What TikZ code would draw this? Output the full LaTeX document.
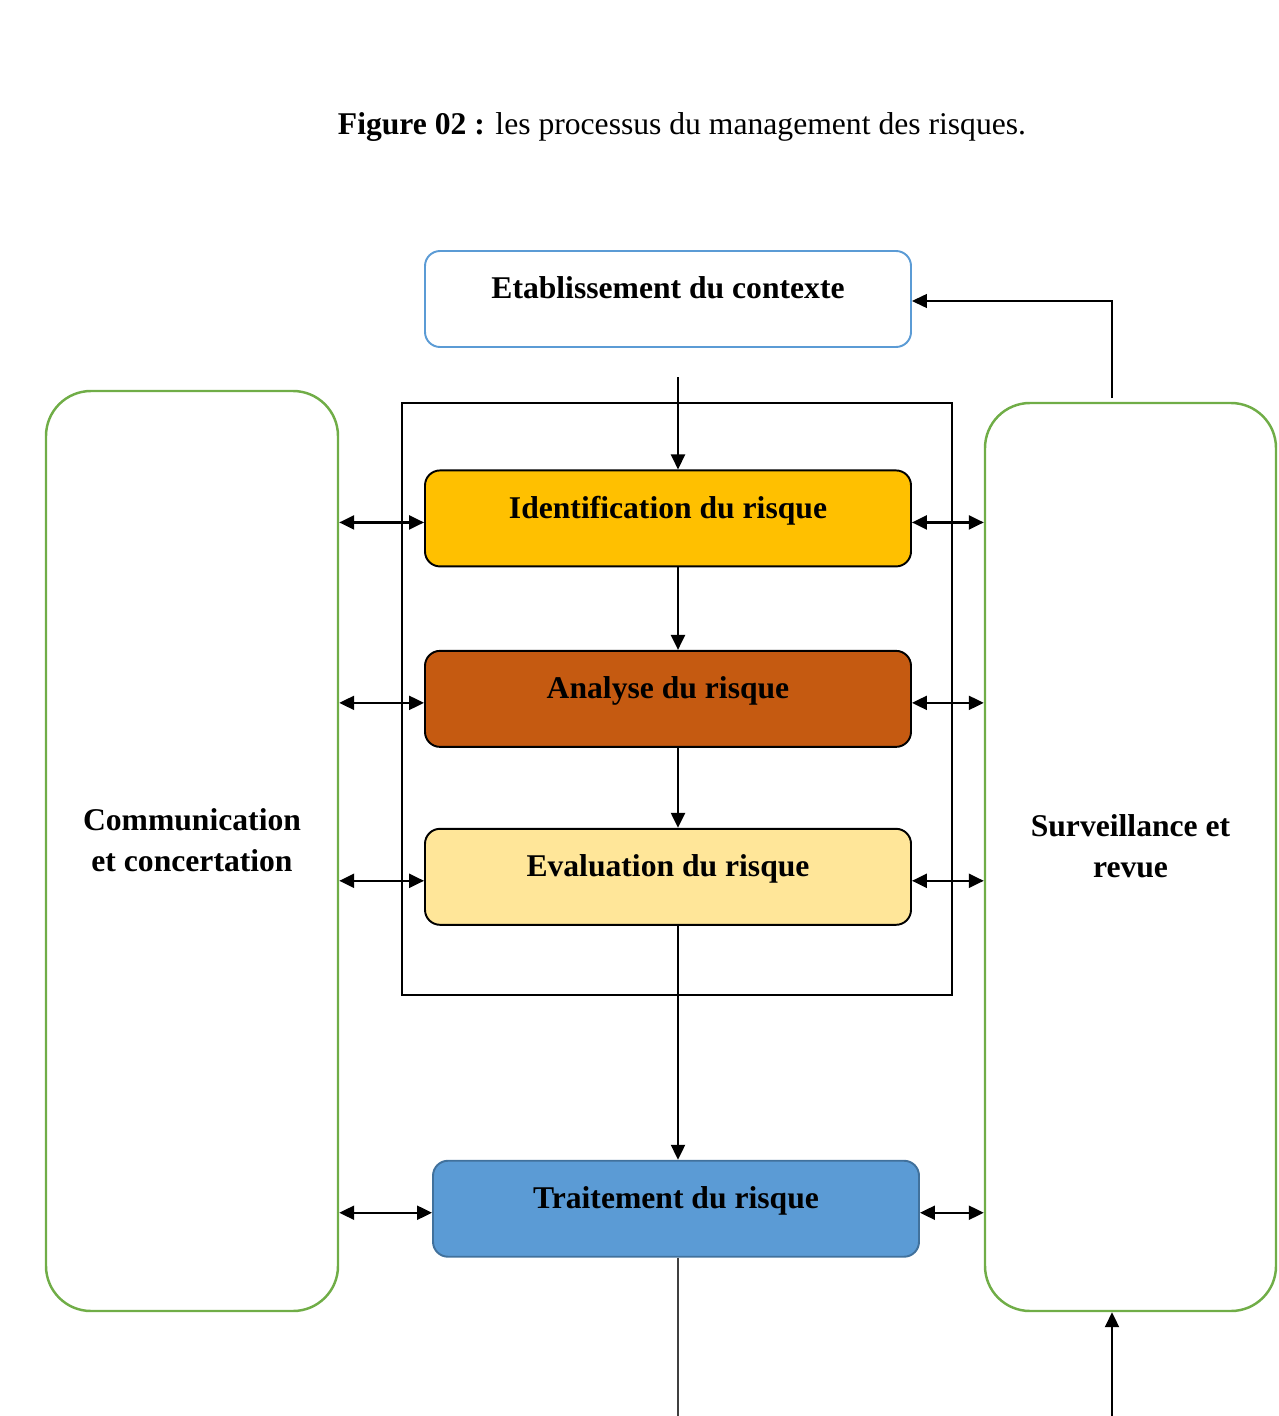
\documentclass[tikz,border=0pt]{standalone}
\usepackage{fontspec}
\setmainfont{Liberation Serif}
\usetikzlibrary{arrows.meta, positioning}
\usepackage{xcolor}
\definecolor{boxblue}{HTML}{5B9BD5}
\definecolor{darkblue}{HTML}{41719C}
\definecolor{boxgreen}{HTML}{70AD47}
\definecolor{ident}{HTML}{FFC000}
\definecolor{analy}{HTML}{C55A11}
\definecolor{evalu}{HTML}{FFE699}

\begin{document}
\begin{tikzpicture}[
font=\fontsize{18}{22}\selectfont,
box/.style={draw,
rectangle,
rounded corners=0.3cm,
line width=1.1pt,
minimum width=9.72cm,
minimum height=1.92cm,
text depth=0.45cm,
align=center,
font=\fontsize{18}{22}\selectfont\bfseries},
side/.style={draw=boxgreen,
rectangle,
rounded corners=0.9cm,
line width=1.4pt,
minimum width=5.84cm},
sidetext/.style={align=center,
yshift=0.22cm,
font=\fontsize{18}{23}\selectfont\bfseries},
arrow/.style={-{Triangle[length=0.3cm, width=0.28cm]}, line width=1.3pt},
twoway/.style={{Triangle[length=0.3cm, width=0.28cm]}-{Triangle[length=0.3cm, width=0.28cm]}, line width=1.3pt}
]
\useasboundingbox (0,0) rectangle (25.58,-28.32);

\node (title) at (13.64,-2.54) {\textbf{Figure 02 :} les processus du management des risques.};

\node[box, draw=boxblue, fill=white] (etab) at (13.36,-5.98) {Etablissement du contexte};
\node[box, fill=ident, below=2.43cm of etab] (ident) {Identification du risque};
\node[box, fill=analy, below=1.65cm of ident] (analyse) {Analyse du risque};
\node[box, fill=evalu, below=1.6cm of analyse] (evalr) {Evaluation du risque};
\node[box, fill=boxblue, draw=darkblue, below=4.68cm of evalr, xshift=0.16cm] (trait) {Traitement du risque};

\node[side, minimum height=18.4cm, label={[sidetext]center:Communication\\et concertation}] (comm) at (3.84,-17.02) {};
\node[side, minimum width=5.82cm, minimum height=18.16cm, label={[sidetext]center:Surveillance et\\revue}] (surv) at (22.61,-17.14) {};

\draw[line width=0.8pt] (8.04,-8.06) rectangle (19.04,-19.9);

\coordinate (spine) at (13.56,0);
\coordinate (loopx) at (22.24,-7.96);
\coordinate (endl) at (13.56,-28.32);
\coordinate (endr) at (22.24,-28.32);

\draw[arrow] (13.56,-7.54) -- (ident.north -| spine);
\draw[arrow] (ident.south -| spine) -- (analyse.north -| spine);
\draw[arrow] (analyse.south -| spine) -- (evalr.north -| spine);
\draw[arrow] (evalr.south -| spine) -- (trait.north -| spine);
\draw[line width=0.6pt, black!75] (trait.south -| spine) -- (endl);
\draw[arrow] (endr) -- (endr |- surv.south);
\draw[arrow, line width=0.8pt] (loopx) |- ([yshift=-0.04cm]etab.east);

\foreach \b in {ident, analyse, evalr, trait} {
\draw[twoway] ([yshift=-0.08cm]\b.west -| comm.east) -- ([yshift=-0.08cm]\b.west);
\draw[twoway] ([yshift=-0.08cm]\b.east) -- ([yshift=-0.08cm]\b.east -| surv.west);
}

\end{tikzpicture}
\end{document}
